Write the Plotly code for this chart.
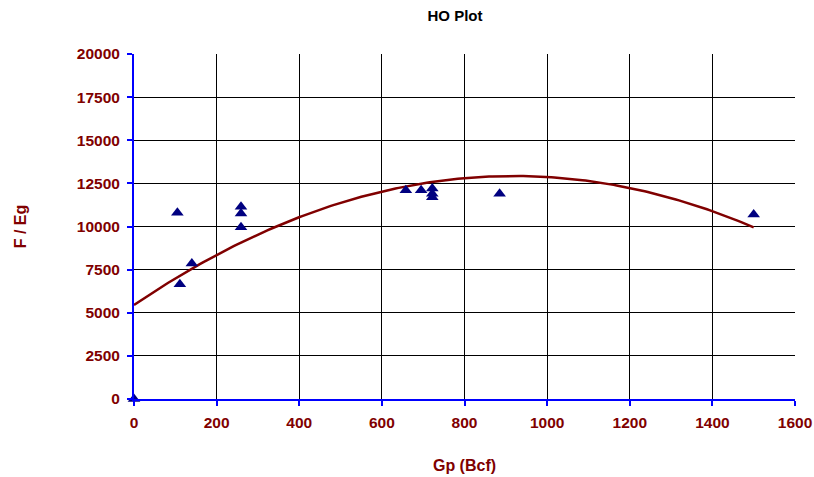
import numpy as np
import plotly.graph_objects as go

# Cumulative gas production (Bcf) and F/Eg values
gp = [0, 105, 111, 140, 259, 259, 259, 658, 695, 722, 722, 722, 885, 1500]
f_eg = [0, 10800, 6650, 7850, 11150, 10750, 9950, 12100, 12100, 12200, 11900, 11700, 11900, 10700]

# Second-order trend line (constant, linear, quadratic coefficients)
trend_coef = [5450, 16.26, -0.00884]
trend_range = [0, 1500]

x_ticks = [0, 200, 400, 600, 800, 1000, 1200, 1400, 1600]
y_ticks = [0, 2500, 5000, 7500, 10000, 12500, 15000, 17500, 20000]

xs = np.linspace(trend_range[0], trend_range[1], 200)
ys = trend_coef[0] + trend_coef[1] * xs + trend_coef[2] * xs ** 2

dark_red = "#800000"
font = "Liberation Sans, Arial, sans-serif"

fig = go.Figure()
fig.add_trace(go.Scatter(
    x=xs, y=ys, mode="lines",
    line=dict(color=dark_red, width=2.5),
    hoverinfo="skip", showlegend=False, cliponaxis=False,
))
fig.add_trace(go.Scatter(
    x=gp, y=f_eg, mode="markers",
    marker=dict(symbol="triangle-up", color="#000080", size=11),
    showlegend=False, cliponaxis=False,
))

axis_common = dict(
    showline=True, linecolor="#0000FF", linewidth=2,
    showgrid=True, gridcolor="#000000", gridwidth=1,
    ticks="outside", tickcolor="#0000FF", ticklen=5, tickwidth=2,
    tickfont=dict(family=font, size=15.5, color=dark_red, weight="bold"),
    zeroline=False, mirror=False, automargin=False,
)

fig.update_layout(
    width=814, height=477,
    margin=dict(l=134, r=19, t=54, b=78),
    paper_bgcolor="white", plot_bgcolor="white",
    title=dict(text="<b>HO Plot</b>", x=0.559, xanchor="center", y=0.966, yanchor="middle",
               font=dict(family=font, size=15, color="black")),
    xaxis=dict(range=[0, 1600], tickvals=x_ticks, ticktext=[str(v) for v in x_ticks],
               ticklabelstandoff=3,
               title=dict(text="<b>Gp (Bcf)</b>", standoff=30,
                          font=dict(family=font, size=16, color=dark_red)),
               **axis_common),
    yaxis=dict(range=[0, 20000], tickvals=y_ticks, ticktext=[str(v) for v in y_ticks],
               ticklabelstandoff=4,
               title=dict(text="<b>F / Eg</b>", standoff=46,
                          font=dict(family=font, size=16, color=dark_red)),
               **axis_common),
)

fig.write_html("out.html")
